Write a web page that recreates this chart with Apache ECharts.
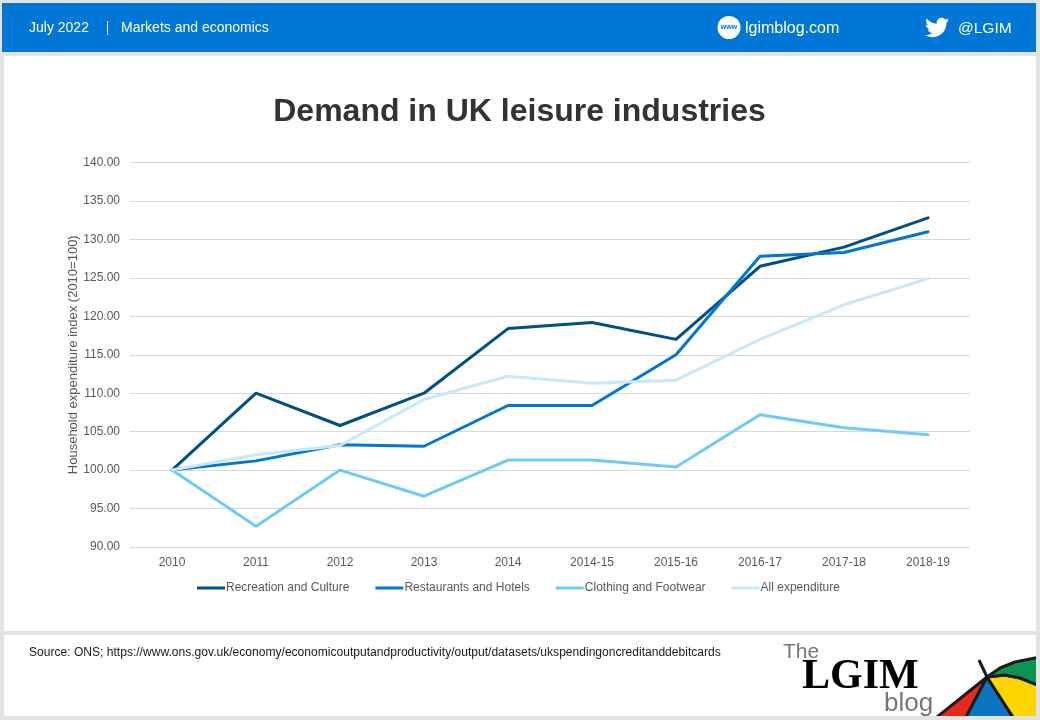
<!DOCTYPE html>
<html><head><meta charset="utf-8">
<style>html,body{margin:0;padding:0;background:#fff}#c{width:1040px;height:720px}</style>
<script src="https://cdn.jsdelivr.net/npm/echarts@6/dist/echarts.min.js"></script></head>
<body><div id="c"></div>
<script>
const categories=['2010','2011','2012','2013','2014','2014-15','2015-16','2016-17','2017-18','2018-19'];
const recreation=[100,110,105.8,110,118.4,119.2,117,126.5,129,132.8];
const restaurants=[100,101.2,103.3,103.1,108.4,108.4,115,127.8,128.3,131];
const clothing=[100,92.7,100,96.6,101.3,101.3,100.4,107.2,105.5,104.6];
const allExpenditure=[100,102,103.2,109.2,112.2,111.3,111.7,117,121.5,124.9];
const names=['Recreation and Culture','Restaurants and Hotels','Clothing and Footwear','All expenditure'];
const colors=['#004f85','#0077d6','#6fcbf5','#c8e8fb'];
const values=[recreation,restaurants,clothing,allExpenditure];
const F='"Liberation Sans",Arial,sans-serif';
echarts.graphic.registerShape('bird',echarts.graphic.extendPath('M24 4.6c-.9.4-1.8.7-2.8.8 1-.6 1.8-1.6 2.2-2.7-1 .6-2 1-3.1 1.2C19.3 2.8 18 2.2 16.6 2.2c-3.2 0-5.5 3-4.8 6C7.7 8 4.1 6 1.7 3c-1.3 2.2-.7 5.1 1.5 6.6-.8 0-1.6-.2-2.2-.6-.1 2.3 1.6 4.4 3.9 4.9-.7.2-1.5.2-2.2.1.6 2 2.4 3.4 4.6 3.4-2.1 1.6-4.7 2.4-7.3 2.1 2.2 1.4 4.8 2.2 7.5 2.2 9.1 0 14.3-7.7 14-14.6 1-.7 1.8-1.6 2.5-2.5z',{}));
const chart=echarts.init(document.getElementById('c'),null,{renderer:'canvas'});
const rect=(x,y,w,h,fill,z)=>({type:'rect',z:z||0,silent:true,shape:{x,y,width:w,height:h},style:{fill}});
const txt=(x,y,text,size,fill,extra)=>({type:'text',z:5,silent:true,x,y,style:Object.assign({text,fontSize:size,fill,fontFamily:F,textVerticalAlign:'middle'},extra||{})});
const poly=(points,fill)=>({type:'polygon',z:6,silent:true,shape:{points},style:{fill,stroke:'#1a1a1a',lineWidth:3,lineJoin:'round'}});
chart.setOption({
 animation:false,
 backgroundColor:'#e3e3e3',
 textStyle:{fontFamily:F},
 title:{text:'Demand in UK leisure industries',left:514.5,top:91,textAlign:'center',
   textStyle:{fontSize:32,fontWeight:'bold',color:'#333333',fontFamily:F}},
 grid:{left:130,right:70,top:162.5,bottom:173,containLabel:false},
 legend:{left:192,top:577,itemWidth:28,itemHeight:3,itemGap:26,icon:'rect',
   data:names,textStyle:{color:'#595959',fontSize:12,fontFamily:F,padding:[0,0,0,-4]}},
 xAxis:{type:'category',data:categories,boundaryGap:true,
   axisLine:{lineStyle:{color:'#d9d9d9'}},axisTick:{show:false},
   axisLabel:{color:'#595959',fontSize:12,margin:10,fontFamily:F}},
 yAxis:{type:'value',min:90,max:140,interval:5,
   name:'Household expenditure index (2010=100)',nameLocation:'middle',nameGap:50,nameMoveOverlap:false,
   nameTextStyle:{color:'#595959',fontSize:13,fontFamily:F},
   axisLine:{show:false},axisTick:{show:false},
   splitLine:{lineStyle:{color:'#d9d9d9',width:1}},
   axisLabel:{color:'#595959',fontSize:12,margin:10,fontFamily:F,formatter:v=>v.toFixed(2)}},
 series:names.map((n,i)=>({name:n,type:'line',data:values[i],symbol:'none',smooth:false,
   lineStyle:{color:colors[i],width:3,cap:'round',join:'round'},itemStyle:{color:colors[i]},z:2+ (i===3?1:0)})),
 graphic:[
  rect(4,56,1032,575,'#ffffff',-10),
  rect(4,635,1032,81,'#ffffff',-10),
  rect(2,3,1034,49,'#0077d6',-10),
  txt(29,28,'July 2022',14,'#fff'),
  rect(107,21,1,14,'#fff'),
  txt(121,28,'Markets and economics',14,'#fff'),
  {type:'circle',z:5,silent:true,shape:{cx:729,cy:27.5,r:11.5},style:{fill:'#fff'}},
  txt(729,27,'www',7,'#0077d6',{textAlign:'center',fontWeight:'bold'}),
  txt(745,28.5,'lgimblog.com',16,'#fff'),
  {type:'bird',z:5,silent:true,x:925,y:15.5,style:{fill:'#fff'}},
  txt(958,28.5,'@LGIM',15.5,'#fff'),
  txt(29,653,'Source: ONS; https://www.ons.gov.uk/economy/economicoutputandproductivity/output/datasets/ukspendingoncreditanddebitcards',12.07,'#1a1a1a'),
  txt(783,652,'The',21,'#777'),
  txt(802,677,'LGIM',42,'#000',{fontFamily:'"Liberation Serif",serif',fontWeight:'bold'}),
  txt(884,704,'blog',26,'#777'),
  poly([[987,677],[927,725],[962,725]],'#e8281f'),
  poly([[987,677],[962,725],[1018,725]],'#0d74c4'),
  poly([[987,677],[1005,675],[1020,678],[1045,688],[1045,725],[1018,725]],'#ffd500'),
  poly([[987,677],[1000,668],[1015,662],[1045,656],[1045,688],[1020,678],[1005,675]],'#0c9550'),
  {type:'line',z:7,silent:true,shape:{x1:979,y1:660,x2:987,y2:677},style:{stroke:'#1a1a1a',lineWidth:3}},
  rect(0,716,1040,4,'#e3e3e3',8),
  rect(1036,630,4,90,'#e3e3e3',8)
 ]
});
</script></body></html>
